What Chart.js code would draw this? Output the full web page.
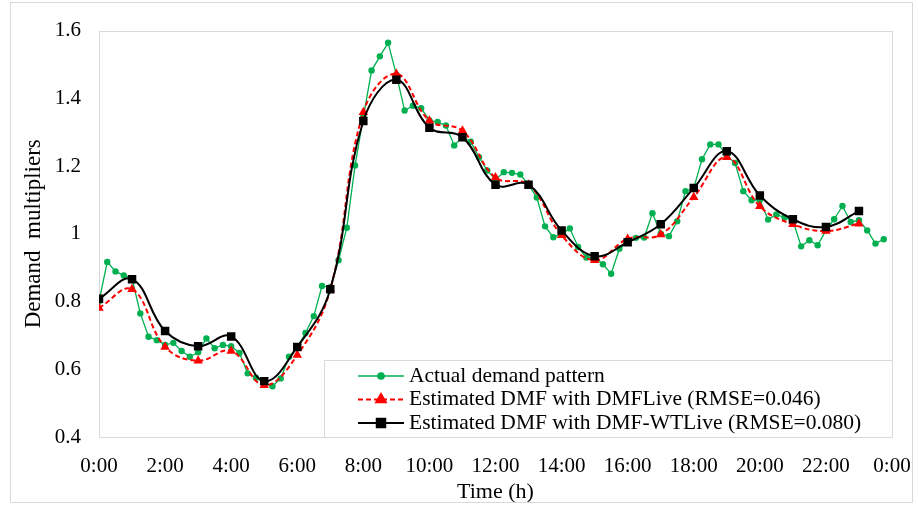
<!DOCTYPE html>
<html>
<head>
<meta charset="utf-8">
<script src="https://cdn.jsdelivr.net/npm/chart.js@4.4.1/dist/chart.umd.min.js"></script>
<style>
  html, body { margin: 0; padding: 0; background: #fff; }
  #wrap { position: relative; width: 918px; height: 509px; }
</style>
</head>
<body>
<div id="wrap"><canvas id="dmfChart"></canvas></div>
<script>
"use strict";

// Actual demand, one value every 15 minutes (0:00 .. 23:45)
const actualDemand = [
  0.800, 0.917, 0.889, 0.877, 0.868, 0.765, 0.696, 0.686,
  0.672, 0.678, 0.654, 0.637, 0.650, 0.691, 0.662, 0.672,
  0.668, 0.648, 0.588, 0.575, 0.560, 0.550, 0.573, 0.637,
  0.665, 0.707, 0.757, 0.846, 0.842, 0.922, 1.018, 1.202,
  1.345, 1.482, 1.524, 1.564, 1.470, 1.364, 1.378, 1.371,
  1.335, 1.330, 1.320, 1.261, 1.285, 1.272, 1.226, 1.187,
  1.160, 1.182, 1.180, 1.175, 1.145, 1.107, 1.022, 0.990,
  1.000, 1.016, 0.961, 0.930, 0.930, 0.910, 0.882, 0.956,
  0.975, 0.988, 0.989, 1.061, 1.000, 0.993, 1.037, 1.126,
  1.135, 1.220, 1.264, 1.264, 1.230, 1.209, 1.126, 1.099,
  1.100, 1.042, 1.057, 1.048, 1.040, 0.963, 0.981, 0.966,
  1.010, 1.043, 1.082, 1.035, 1.040, 1.010, 0.971, 0.984
];

// Hourly estimates (0:00 .. 23:00)
const dmfLive = [
  0.781, 0.836, 0.666, 0.625, 0.654, 0.553, 0.642, 0.836,
  1.359, 1.472, 1.334, 1.304, 1.166, 1.145, 0.996, 0.922,
  0.985, 0.998, 1.108, 1.226, 1.081, 1.028, 1.008, 1.030
];
const dmfWtLive = [
  0.808, 0.866, 0.713, 0.668, 0.697, 0.565, 0.666, 0.836,
  1.333, 1.455, 1.313, 1.285, 1.145, 1.145, 1.010, 0.934,
  0.975, 1.028, 1.135, 1.244, 1.113, 1.043, 1.020, 1.067
];

const seriesLabels = [
  'Actual demand pattern',
  'Estimated DMF with DMFLive (RMSE=0.046)',
  'Estimated DMF with DMF-WTLive (RMSE=0.080)'
];
const xTicks = [0, 2, 4, 6, 8, 10, 12, 14, 16, 18, 20, 22, 24];
const yTicks = [0.4, 0.6, 0.8, 1.0, 1.2, 1.4, 1.6];

const FONT = '"Liberation Serif", "Times New Roman", serif';
const GREEN = '#00B050';
const RED = '#FF0000';
const BLACK = '#000000';
const BOX = '#d9d9d9';

const quarterPoints = (vals) => vals.map((v, i) => ({ x: i / 4, y: v }));
const hourPoints = (vals) => vals.map((v, i) => ({ x: i, y: v }));

// plot frame + outer chart border
const framePlugin = {
  id: 'frame',
  beforeDatasetsDraw: (chart) => {
    const { ctx, chartArea: a } = chart;
    ctx.save();
    ctx.strokeStyle = BOX;
    ctx.lineWidth = 1;
    ctx.strokeRect(Math.round(a.left) + 0.5, Math.round(a.top) + 0.5,
      Math.round(a.right - a.left), Math.round(a.bottom - a.top));
    ctx.strokeRect(10.5, 2.5, 902, 500);
    ctx.restore();
  }
};

// legend drawn inside the plot, bottom right, like the original
const boxLegendPlugin = {
  id: 'boxLegend',
  afterDatasetsDraw: (chart) => {
    const { ctx, chartArea: a } = chart;
    const left = 324.5, top = 360.5;
    ctx.save();
    ctx.fillStyle = '#fff';
    ctx.fillRect(left, top, a.right - left, a.bottom - top);
    ctx.strokeStyle = BOX;
    ctx.lineWidth = 1;
    ctx.strokeRect(left, top, Math.round(a.right) - left + 0.5, Math.round(a.bottom) - top + 0.5);

    [0, 1, 2].forEach((di, row) => {
      const ds = chart.data.datasets[di];
      const y = 376 + row * 23.5;
      ctx.save();
      ctx.strokeStyle = ds.borderColor;
      ctx.lineWidth = ds.borderWidth;
      ctx.setLineDash(ds.borderDash || []);
      ctx.beginPath();
      ctx.moveTo(358, y);
      ctx.lineTo(404, y);
      ctx.stroke();
      ctx.setLineDash([]);
      Chart.helpers.drawPoint(ctx, {
        pointStyle: ds.pointStyle,
        radius: ds.pointRadius,
        borderWidth: 1
      }, 381, y);
      ctx.fillStyle = ds.pointBackgroundColor;
      ctx.fill();
      ctx.restore();

      ctx.fillStyle = '#000';
      ctx.font = '21.5px ' + FONT;
      ctx.textAlign = 'left';
      ctx.textBaseline = 'middle';
      ctx.fillText(ds.label, 409, y);
    });
    ctx.restore();
  }
};

Chart.defaults.font.family = FONT;
Chart.defaults.color = '#000';

const ctxDmf = document.getElementById('dmfChart');
new Chart(ctxDmf, {
  type: 'line',
  data: {
    datasets: [{
      label: seriesLabels[0],
      data: quarterPoints(actualDemand),
      borderColor: GREEN,
      backgroundColor: GREEN,
      pointBackgroundColor: GREEN,
      pointBorderColor: GREEN,
      borderWidth: 1.3,
      pointStyle: 'circle',
      pointRadius: 3.2,
      pointBorderWidth: 0,
      tension: 0,
      order: 2
    }, {
      label: seriesLabels[1],
      data: hourPoints(dmfLive),
      borderColor: RED,
      backgroundColor: RED,
      pointBackgroundColor: RED,
      pointBorderColor: RED,
      borderWidth: 2,
      borderDash: [5, 3],
      pointStyle: 'triangle',
      pointRadius: 5.5,
      pointBorderWidth: 0,
      tension: 0.4,
      order: 1
    }, {
      label: seriesLabels[2],
      data: hourPoints(dmfWtLive),
      borderColor: BLACK,
      backgroundColor: BLACK,
      pointBackgroundColor: BLACK,
      pointBorderColor: BLACK,
      borderWidth: 2,
      pointStyle: 'rect',
      pointRadius: 6,
      pointBorderWidth: 0,
      tension: 0.4,
      order: 0
    }]
  },
  options: {
    responsive: true,
    maintainAspectRatio: false,
    animation: false,
    layout: { padding: { left: 10, top: 30, right: 26, bottom: 0 } },
    plugins: {
      legend: { display: false },
      tooltip: { enabled: false }
    },
    scales: {
      x: {
        type: 'linear',
        min: 0,
        max: 24,
        afterBuildTicks: (scale) => {
          scale.ticks = xTicks.map(v => ({ value: v }));
        },
        afterFit: (scale) => {
          scale.height = 72;
          // keep the plot edges fixed, labels may overhang into the margin
          scale.paddingLeft = 0;
          scale.paddingRight = 0;
        },
        grid: { display: false, drawTicks: false },
        border: { display: false },
        ticks: {
          autoSkip: false,
          maxRotation: 0,
          padding: 17,
          font: { size: 21 },
          callback: (v) => (v % 24) + ':00'
        },
        title: {
          display: true,
          text: 'Time (h)',
          font: { size: 22 },
          padding: { top: 0, bottom: 4 }
        }
      },
      y: {
        min: 0.4,
        max: 1.6,
        afterBuildTicks: (scale) => {
          scale.ticks = yTicks.map(v => ({ value: v }));
        },
        afterFit: (scale) => { scale.width = 89; },
        grid: { display: false, drawTicks: false },
        border: { display: false },
        ticks: {
          padding: 18,
          font: { size: 21 },
          callback: (v) => String(Number(v.toFixed(1)))
        },
        title: {
          display: true,
          text: 'Demand  multipliers',
          font: { size: 23 },
          padding: { top: 10, bottom: 0 }
        }
      }
    }
  },
  plugins: [framePlugin, boxLegendPlugin]
});
</script>
</body>
</html>
